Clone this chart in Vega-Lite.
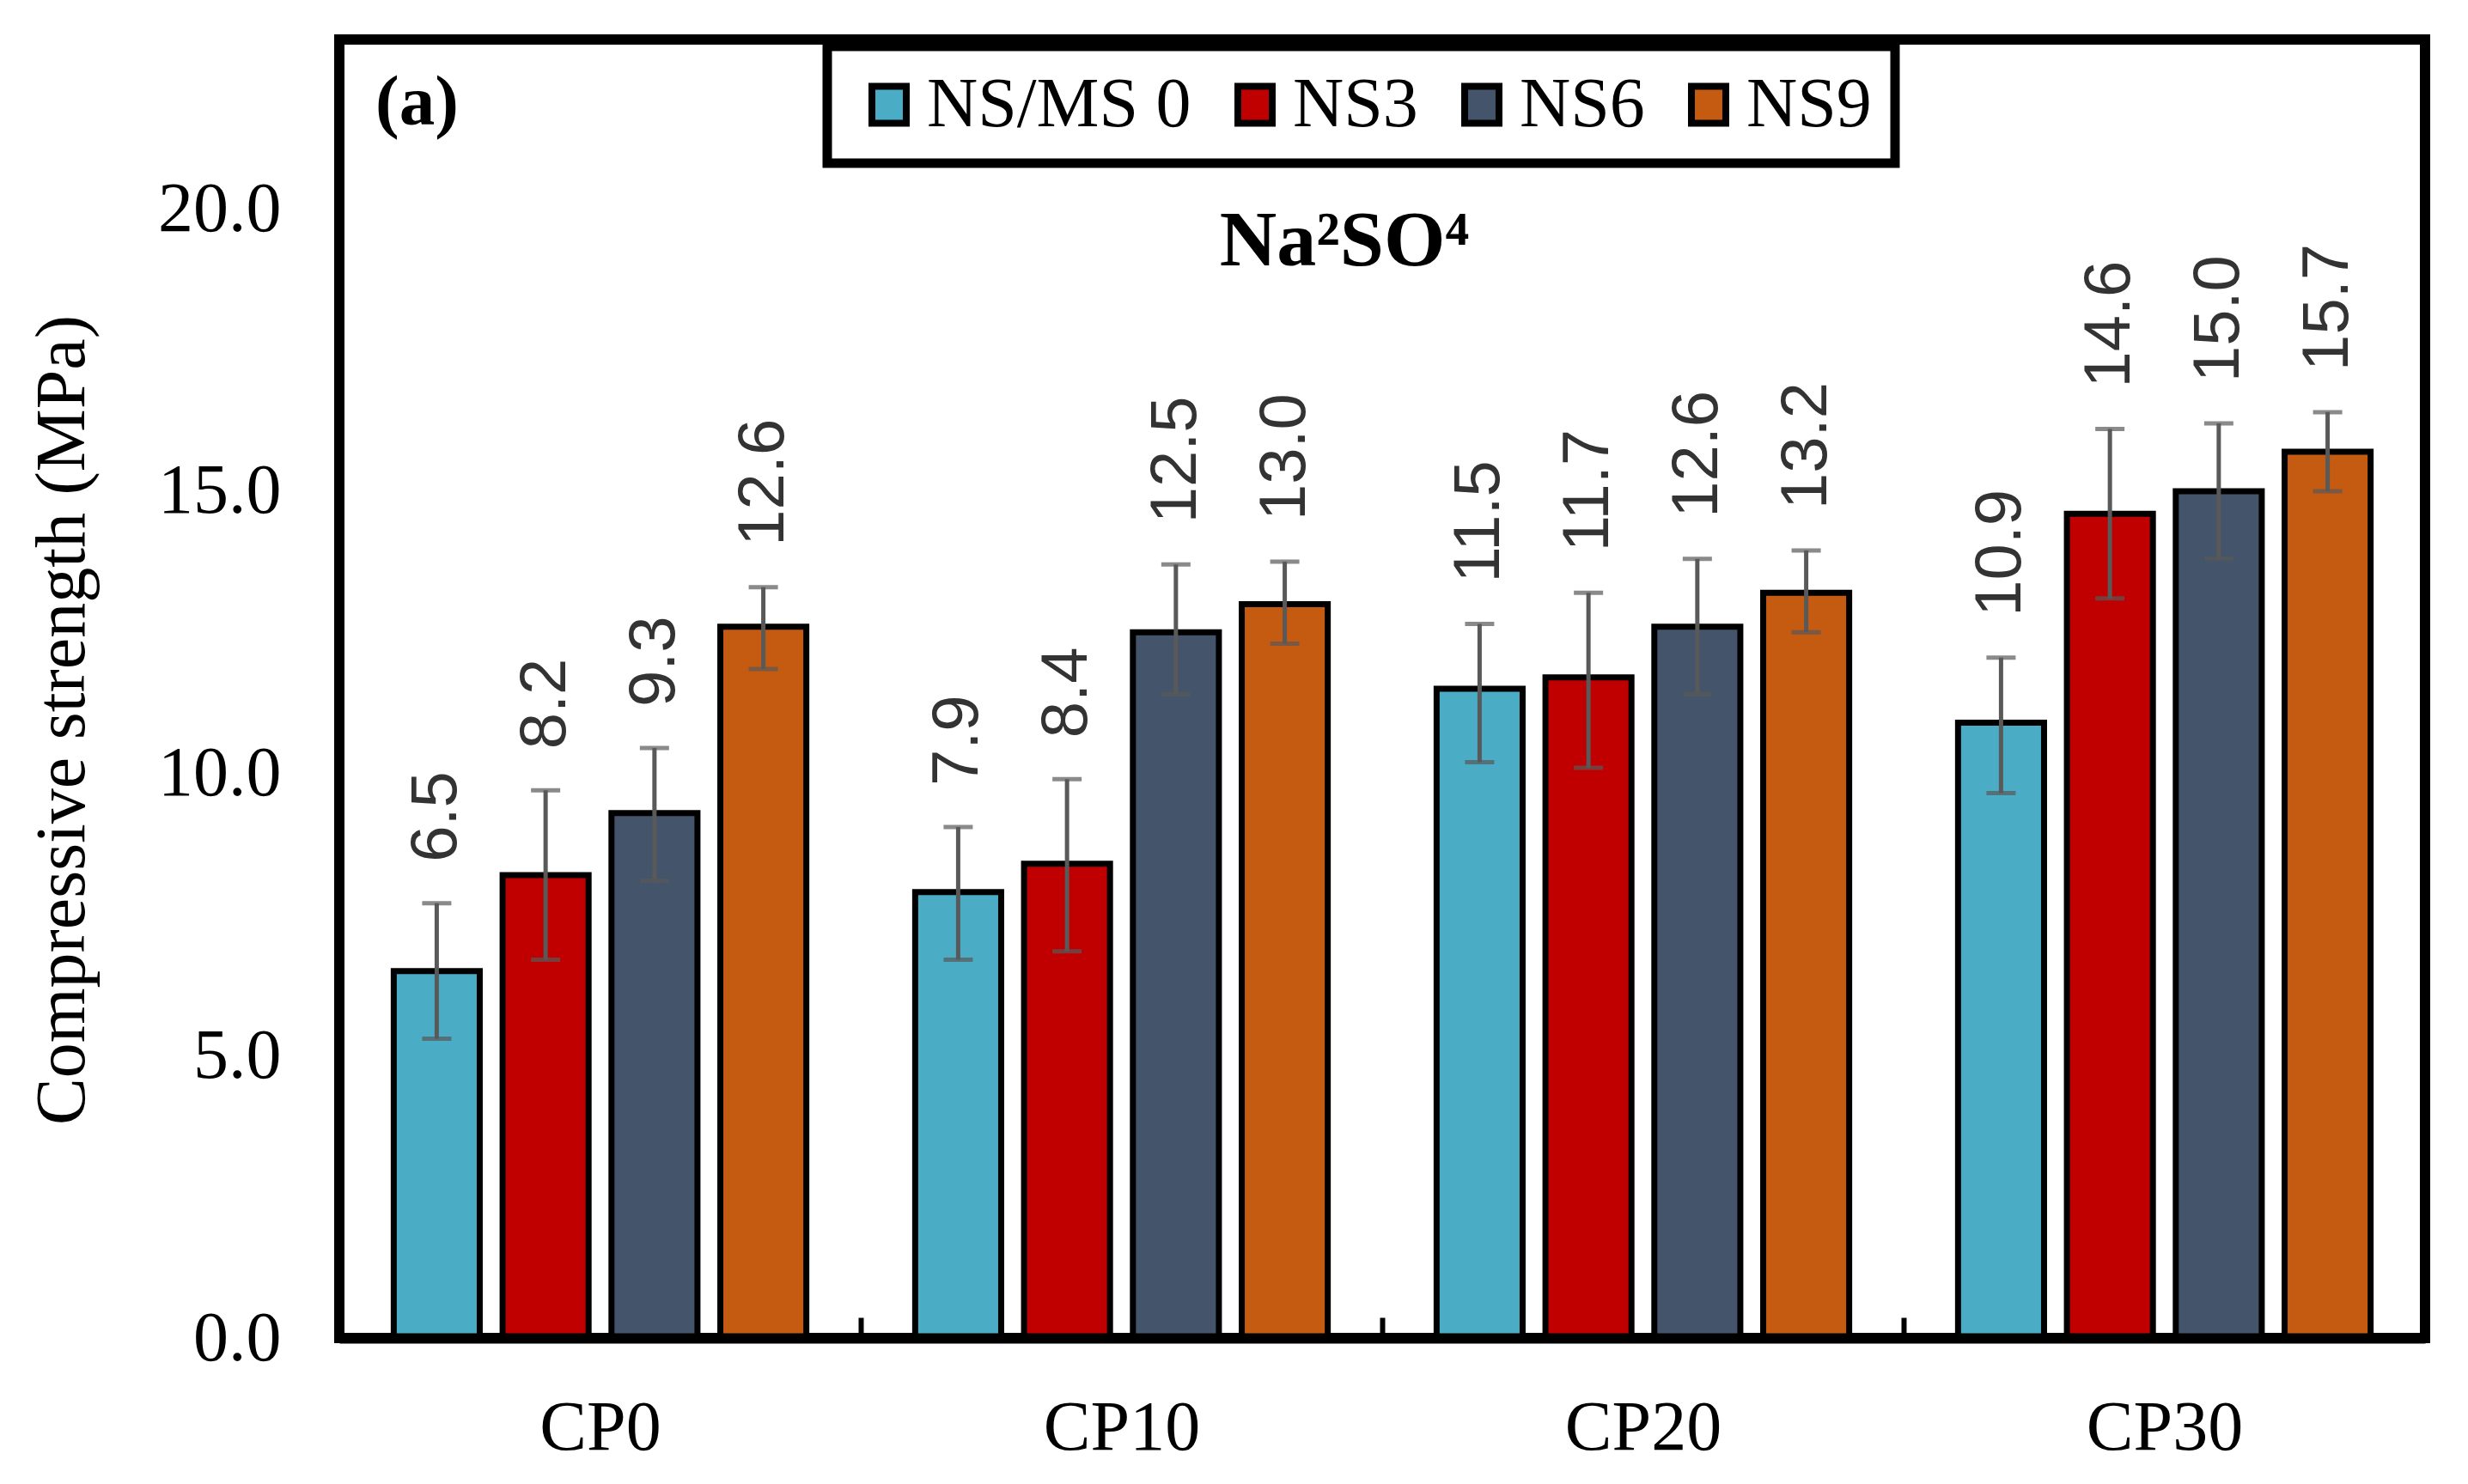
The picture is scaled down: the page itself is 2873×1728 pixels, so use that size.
{
  "$schema": "https://vega.github.io/schema/vega-lite/v6.json",
  "width": 2428,
  "height": 1512,
  "autosize": "none",
  "padding": {"left": 395, "top": 46, "right": 50, "bottom": 170},
  "background": "white",
  "config": {
    "font": "Liberation Serif",
    "view": {"stroke": "black", "strokeWidth": 12},
    "legend": {"strokeColor": "black", "strokeWidth": 11}
  },
  "data": {
    "values": [
      {"cp": "CP0", "grp": "NS/MS 0", "v": 6.5, "lo": 5.3, "hi": 7.7},
      {"cp": "CP0", "grp": "NS3", "v": 8.2, "lo": 6.7, "hi": 9.7},
      {"cp": "CP0", "grp": "NS6", "v": 9.3, "lo": 8.1, "hi": 10.45},
      {"cp": "CP0", "grp": "NS9", "v": 12.6, "lo": 11.85, "hi": 13.3},
      {"cp": "CP10", "grp": "NS/MS 0", "v": 7.9, "lo": 6.7, "hi": 9.05},
      {"cp": "CP10", "grp": "NS3", "v": 8.4, "lo": 6.85, "hi": 9.9},
      {"cp": "CP10", "grp": "NS6", "v": 12.5, "lo": 11.4, "hi": 13.7},
      {"cp": "CP10", "grp": "NS9", "v": 13.0, "lo": 12.3, "hi": 13.75},
      {"cp": "CP20", "grp": "NS/MS 0", "v": 11.5, "lo": 10.2, "hi": 12.65},
      {"cp": "CP20", "grp": "NS3", "v": 11.7, "lo": 10.1, "hi": 13.2},
      {"cp": "CP20", "grp": "NS6", "v": 12.6, "lo": 11.4, "hi": 13.8},
      {"cp": "CP20", "grp": "NS9", "v": 13.2, "lo": 12.5, "hi": 13.95},
      {"cp": "CP30", "grp": "NS/MS 0", "v": 10.9, "lo": 9.65, "hi": 12.05},
      {"cp": "CP30", "grp": "NS3", "v": 14.6, "lo": 13.1, "hi": 16.1},
      {"cp": "CP30", "grp": "NS6", "v": 15.0, "lo": 13.8, "hi": 16.2},
      {"cp": "CP30", "grp": "NS9", "v": 15.7, "lo": 15.0, "hi": 16.4}
    ]
  },
  "encoding": {
    "x": {
      "field": "cp",
      "type": "nominal",
      "sort": ["CP0", "CP10", "CP20", "CP30"],
      "scale": {"paddingInner": 0, "paddingOuter": 0},
      "axis": {
        "title": null,
        "labelAngle": 0,
        "labelFont": "Liberation Serif",
        "labelFontSize": 82,
        "labelColor": "black",
        "labelLimit": 0,
        "labelPadding": 88,
        "domain": true,
        "domainColor": "black",
        "domainWidth": 12,
        "ticks": true,
        "tickBand": "extent",
        "tickSize": -24,
        "tickWidth": 6,
        "tickColor": "black",
        "grid": false,
        "zindex": 1
      }
    },
    "xOffset": {
      "field": "grp",
      "type": "nominal",
      "sort": ["NS/MS 0", "NS3", "NS6", "NS9"],
      "scale": {"paddingInner": 0.21, "paddingOuter": 0.5}
    }
  },
  "layer": [
    {
      "mark": {"type": "bar", "stroke": "black", "strokeWidth": 7},
      "encoding": {
        "y": {
          "field": "v",
          "type": "quantitative",
          "scale": {"domain": [0, 23], "nice": false, "zero": true},
          "axis": {
            "title": "Compressive strength (MPa)",
            "titleFont": "Liberation Serif",
            "titleFontSize": 82,
            "titleFontWeight": "normal",
            "titleColor": "black",
            "titleX": -298,
            "titleY": 792,
            "titleBaseline": "alphabetic",
            "values": [0, 5, 10, 15, 20],
            "format": ".1f",
            "labelFont": "Liberation Serif",
            "labelFontSize": 82,
            "labelColor": "black",
            "labelPadding": 68,
            "domain": false,
            "ticks": false,
            "grid": false
          }
        },
        "color": {
          "field": "grp",
          "type": "nominal",
          "scale": {
            "domain": ["NS/MS 0", "NS3", "NS6", "NS9"],
            "range": ["#4BACC6", "#C00000", "#44546A", "#C55A11"]
          },
          "legend": {
            "title": " ",
            "titleOrient": "left",
            "titleFont": "Liberation Serif",
            "titleFontSize": 82,
            "titlePadding": 4,
            "orient": "none",
            "legendX": 568,
            "legendY": 8,
            "direction": "horizontal",
            "padding": 27,
            "strokeColor": "black",
            "fillColor": "white",
            "labelFont": "Liberation Serif",
            "labelFontSize": 82,
            "labelColor": "black",
            "labelOffset": 3,
            "labelLimit": 0,
            "columnPadding": 33,
            "symbolType": "M-0.93,-1H0.93V1H-0.93Z",
            "symbolSize": 1849,
            "symbolStrokeColor": "black",
            "symbolStrokeWidth": 8,
            "symbolOpacity": 1
          }
        }
      }
    },
    {
      "mark": {"type": "rule", "color": "#595959", "strokeWidth": 5},
      "encoding": {
        "y": {"field": "lo", "type": "quantitative"},
        "y2": {"field": "hi"}
      }
    },
    {
      "mark": {"type": "tick", "orient": "horizontal", "size": 34, "thickness": 5, "color": "#595959"},
      "encoding": {"y": {"field": "lo", "type": "quantitative"}}
    },
    {
      "mark": {"type": "tick", "orient": "horizontal", "size": 34, "thickness": 5, "color": "#595959"},
      "encoding": {"y": {"field": "hi", "type": "quantitative"}}
    },
    {
      "mark": {
        "type": "text",
        "angle": 270,
        "align": "left",
        "baseline": "middle",
        "dx": 48,
        "font": "Liberation Sans",
        "fontSize": 76,
        "color": "#333333"
      },
      "encoding": {
        "y": {"field": "hi", "type": "quantitative"},
        "text": {"field": "v", "type": "quantitative", "format": ".1f"}
      }
    },
    {
      "data": {"values": [{"t": "(a)"}]},
      "mark": {
        "type": "text",
        "align": "left",
        "baseline": "alphabetic",
        "dx": 42,
        "font": "Liberation Serif",
        "fontWeight": "bold",
        "fontSize": 83,
        "color": "black"
      },
      "encoding": {
        "x": {"datum": "CP0", "type": "nominal", "bandPosition": 0},
        "xOffset": null,
        "y": {"datum": 21.5, "type": "quantitative"},
        "text": {"field": "t", "type": "nominal"}
      }
    },
    {
      "data": {"values": [{"t": "Na²SO⁴"}]},
      "mark": {
        "type": "text",
        "align": "center",
        "baseline": "alphabetic",
        "dx": -44,
        "font": "Liberation Serif",
        "fontWeight": "bold",
        "fontSize": 92,
        "color": "black"
      },
      "encoding": {
        "x": {"datum": "CP20", "type": "nominal", "bandPosition": 0},
        "xOffset": null,
        "y": {"datum": 19.0, "type": "quantitative"},
        "text": {"field": "t", "type": "nominal"}
      }
    }
  ]
}
